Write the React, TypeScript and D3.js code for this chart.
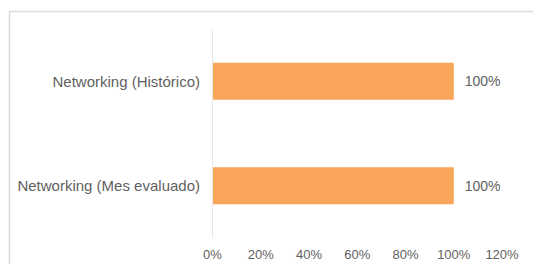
import React from "react";
import * as d3 from "d3";

const categories = ["Networking (Histórico)", "Networking (Mes evaluado)"];
const values = [1.0, 1.0];
const ticks = [0, 0.2, 0.4, 0.6, 0.8, 1.0, 1.2];

export default function App() {
  const W = 533, H = 264;
  const x = d3.scaleLinear().domain([0, 1.2]).range([212.5, 502]);
  const y = d3.scaleBand<string>().domain(categories).range([29, 238]).paddingInner(0.646).paddingOuter(0.323);
  const fmt = d3.format(".0%");
  const font = "'Liberation Sans', Arial, sans-serif";
  return (
    <svg width={W} height={H} style={{ position: "absolute", left: 0, top: 0, background: "#fff" }} fontFamily={font}>
      <rect x={9.5} y={11.5} width={600} height={300} fill="#fff" stroke="#dcdcdc" strokeWidth={1.5} />
      <line x1={x(0)} x2={x(0)} y1={29} y2={238} stroke="#e6e6e6" strokeWidth={1} />
      {categories.map((c, i) => {
        const yy = y(c)!;
        const bw = y.bandwidth();
        return (
          <g key={c}>
            <rect x={x(0) + 0.5} y={yy} width={x(values[i]) - x(0) - 0.5} height={bw} fill="#F9A65A" />
            <text x={200} y={yy + bw / 2} dy="0.35em" textAnchor="end" fontSize={15} fill="#5f5f5f">{c}</text>
            <text x={x(values[i]) + 11} y={yy + bw / 2} dy="0.35em" textAnchor="start" fontSize={14} fill="#5f5f5f">{fmt(values[i])}</text>
          </g>
        );
      })}
      {ticks.map((t) => (
        <text key={t} x={x(t)} y={254} dy="0.35em" textAnchor="middle" fontSize={13} fill="#5f5f5f">{fmt(t)}</text>
      ))}
    </svg>
  );
}
